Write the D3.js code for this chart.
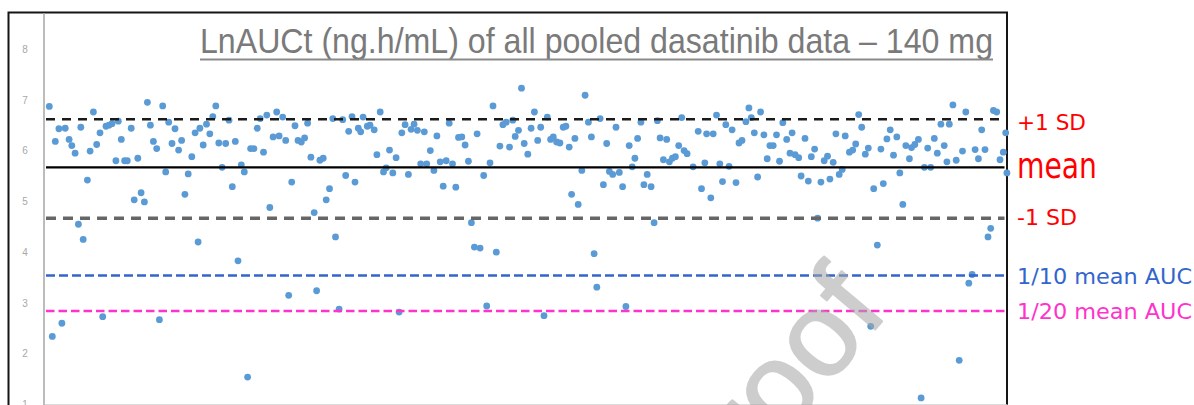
<!DOCTYPE html>
<html><head><meta charset="utf-8">
<script src="https://cdn.jsdelivr.net/npm/d3@7"></script>
<style>html,body{margin:0;padding:0;background:#fff;overflow:hidden}</style>
</head><body>
<svg id="chart" width="1194" height="405"></svg>
<script>
// ---- data ----
const titleText = "LnAUCt (ng.h/mL) of all pooled dasatinib data \u2013 140 mg";
const watermarkText = "Journal Pre-proof";
const yTicks = [1, 2, 3, 4, 5, 6, 7, 8];
const refLabels = ["+1 SD", "mean", "-1 SD", "1/10 mean AUC", "1/20 mean AUC"];
const refValues = [6.62, 5.67, 4.67, 3.54, 2.84];
// [subject order, LnAUCt]
const lnAUCtPoints = [
[2.1,6.87],[3.1,2.34],[4.1,6.18],[5.3,6.43],[6.3,2.60],[7.4,6.44],[8.7,6.22],[9.6,6.10],[10.7,5.95],[11.8,4.55],
[12.6,6.46],[13.4,4.25],[14.8,5.42],[15.7,5.99],[16.8,6.76],[17.9,6.12],[19.0,6.35],[19.9,2.73],[21.0,6.48],[22.0,6.50],
[23.0,6.53],[24.3,5.80],[25.1,6.58],[26.1,6.22],[27.2,5.80],[28.1,5.80],[29.4,6.44],[30.4,5.03],[31.6,5.85],[32.7,5.17],
[33.8,4.99],[34.8,6.95],[35.8,6.50],[36.8,6.18],[37.9,6.04],[38.8,2.67],[39.9,6.88],[40.9,5.58],[41.9,6.56],[43.0,6.14],
[44.0,6.43],[45.2,6.01],[46.2,6.20],[47.3,5.14],[48.4,5.54],[49.6,5.88],[50.7,6.35],[51.7,4.20],[52.3,6.44],[53.4,6.11],
[54.5,6.52],[55.6,6.33],[56.6,6.67],[57.6,6.88],[58.6,6.15],[59.7,5.67],[60.9,6.14],[62.0,6.60],[63.1,5.29],[64.1,6.18],
[65.0,3.83],[66.1,5.72],[67.1,5.58],[68.2,1.54],[69.2,6.04],[70.3,6.04],[71.4,6.44],[72.4,6.63],[73.5,5.97],[74.6,6.70],
[75.6,4.88],[76.7,6.27],[77.9,6.76],[78.7,6.29],[79.9,6.66],[80.9,6.20],[81.9,3.15],[82.9,5.38],[84.0,6.49],[85.0,6.20],
[86.1,6.17],[87.2,6.25],[88.2,6.54],[89.3,5.87],[90.4,4.78],[91.2,3.24],[92.3,5.81],[93.4,5.85],[94.4,5.03],[95.5,5.25],
[96.6,6.63],[97.5,4.30],[98.7,2.88],[99.9,6.61],[100.9,5.51],[101.9,6.38],[103.0,6.67],[104.0,5.38],[105.1,6.44],[105.9,6.37],
[106.7,6.66],[108.1,6.48],[109.0,6.50],[110.4,6.41],[111.3,5.92],[112.4,6.76],[113.5,5.58],[114.4,5.66],[115.5,6.01],[116.6,5.56],
[117.7,5.86],[118.7,2.82],[119.6,6.35],[120.7,6.51],[121.8,5.53],[122.7,6.42],[123.7,6.52],[124.8,6.40],[125.9,5.74],[127.1,6.37],
[127.9,5.74],[129.1,6.00],[130.3,5.61],[131.3,6.29],[132.4,5.78],[133.4,5.30],[134.4,5.80],[135.4,6.54],[136.5,5.74],[137.6,5.28],
[138.5,6.26],[139.6,6.27],[140.7,6.11],[141.8,5.79],[142.8,4.58],[143.8,4.10],[144.7,6.33],[145.7,4.08],[146.9,5.51],[147.9,2.94],
[149.0,5.76],[150.0,6.88],[151.1,4.00],[152.3,6.09],[153.3,6.51],[154.4,6.56],[155.5,6.07],[156.6,6.60],[157.4,6.28],[158.5,6.40],
[159.5,7.23],[160.4,6.14],[161.6,5.93],[162.7,6.44],[163.8,6.76],[164.9,6.20],[165.9,6.46],[167.0,2.75],[168.1,6.66],[169.2,6.22],
[170.1,6.27],[171.2,6.17],[172.3,6.15],[173.4,6.46],[174.3,6.48],[175.4,6.07],[176.2,5.14],[177.3,6.24],[178.4,4.94],[179.6,5.61],
[180.7,7.09],[181.8,6.56],[182.8,6.27],[183.7,3.97],[184.6,3.31],[185.7,6.63],[186.8,5.33],[187.9,6.14],[188.8,5.59],[189.9,5.53],
[191.0,6.46],[192.1,5.57],[193.2,5.29],[194.3,2.93],[195.4,6.10],[196.4,5.68],[197.3,5.85],[198.2,6.24],[199.3,6.56],[200.3,5.33],
[201.4,5.53],[202.7,5.29],[203.7,4.58],[204.8,6.59],[205.7,6.25],[206.8,5.82],[207.9,6.22],[208.8,5.78],[209.8,5.85],[210.8,5.88],
[211.9,6.10],[212.9,6.65],[213.7,6.00],[214.7,5.94],[216.7,5.68],[218.4,6.38],[219.5,5.25],[220.6,5.76],[221.2,6.33],[222.6,5.07],
[223.4,6.33],[224.5,6.70],[225.6,5.74],[226.5,5.39],[227.6,6.51],[228.7,5.69],[229.7,6.41],[231.0,5.37],[232.0,6.15],[233.0,6.20],
[234.3,6.57],[235.3,6.84],[236.1,6.65],[237.1,6.35],[238.2,5.48],[239.2,6.76],[240.3,6.31],[241.4,5.84],[242.3,6.10],[243.4,6.10],
[244.5,6.31],[245.5,5.79],[246.6,6.55],[247.9,6.22],[249.0,5.95],[249.7,6.35],[250.7,5.92],[251.9,5.86],[252.7,5.50],[254.0,6.24],
[255.1,5.40],[256.1,5.88],[257.2,6.03],[258.2,4.67],[259.3,5.38],[260.4,5.80],[261.5,5.89],[262.3,5.44],[263.4,5.77],[264.3,6.33],
[265.4,5.53],[266.4,5.63],[267.4,6.29],[268.8,5.97],[269.9,6.01],[270.9,6.13],[271.9,6.71],[272.9,6.46],[274.1,5.93],[275.1,6.05],
[275.9,2.54],[276.9,5.25],[278.1,4.14],[279.3,6.03],[280.1,5.35],[281.3,6.23],[282.4,6.41],[283.5,5.91],[284.6,6.27],[285.6,5.56],
[286.6,4.94],[287.6,6.10],[288.8,5.84],[289.5,6.06],[290.6,6.12],[291.8,6.22],[292.7,1.13],[293.8,5.67],[294.9,6.05],[295.9,5.67],
[297.1,6.24],[298.1,5.95],[299.3,6.52],[300.4,6.10],[301.3,5.78],[302.1,6.52],[303.3,6.90],[304.4,5.81],[305.4,1.87],[306.5,5.99],
[307.6,6.76],[308.6,3.39],[309.7,3.56],[310.7,6.02],[311.8,5.84],[312.9,6.41],[314.0,6.02],[315.0,4.30],[315.9,4.47],[316.8,6.79],
[317.9,6.76],[319.0,5.82],[320.1,5.97],[320.9,6.35],[321.3,5.56]
];

// ---- styles / layout ----
const refStyles = [
  {stroke: "#1a1a1a", width: 2.5, dash: "9,7"},
  {stroke: "#000000", width: 2.2, dash: null},
  {stroke: "#666666", width: 3.5, dash: "10,7"},
  {stroke: "#3366cc", width: 2.5, dash: "9,4"},
  {stroke: "#ff33cc", width: 2.5, dash: "8.5,4"}
];
const labelStyles = [
  {fill: "#ff0000", size: 22, dy: 10.5, len: 69},
  {fill: "#ff0000", size: 36, dy: 10.5, len: 80},
  {fill: "#ff0000", size: 22, dy: 6.5, len: 60},
  {fill: "#3366cc", size: 21, dy: 8.7, len: 175},
  {fill: "#ff33cc", size: 21, dy: 8.0, len: 175}
];

const svg = d3.select("#chart");
const x = d3.scaleLinear().domain([0, 321.33]).range([43, 1007]);
const y = d3.scaleLinear().domain([1, 8.71]).range([404.5, 13]);

// outer frame
svg.append("rect").attr("x", 8.5).attr("y", 12.5).attr("width", 998.5).attr("height", 430)
  .attr("fill", "#fff").attr("stroke", "#151515").attr("stroke-width", 2);

// x axis line (no ticks)
const xAxis = d3.axisBottom(x).tickValues([]).tickSize(0);
svg.append("g").attr("transform", `translate(0,${y(1)})`).call(xAxis)
  .select(".domain").attr("stroke", "#d0d0d0").attr("stroke-width", 1.5);

// y axis
const yAxis = d3.axisLeft(y).tickValues(yTicks).tickSize(0).tickPadding(0).tickFormat(d3.format("d"));
const gy = svg.append("g").attr("transform", "translate(43.5,0)").call(yAxis);
gy.select(".domain").attr("stroke", "#bcbcbc").attr("stroke-width", 2);
gy.selectAll(".tick text").attr("x", -18.5).attr("text-anchor", "middle")
  .attr("fill", "#a8a8a8").style("font-family", "'Liberation Sans', Arial, sans-serif").style("font-size", "10px");

// points
svg.append("g").selectAll("circle").data(lnAUCtPoints).join("circle")
  .attr("cx", d => x(d[0])).attr("cy", d => y(d[1])).attr("r", 3.4)
  .attr("fill", "#5b9bd5");

// reference lines
svg.append("g").selectAll("line").data(refValues).join("line")
  .attr("x1", x(1)).attr("x2", x(320.5))
  .attr("y1", d => y(d)).attr("y2", d => y(d))
  .attr("stroke", (d, i) => refStyles[i].stroke)
  .attr("stroke-width", (d, i) => refStyles[i].width)
  .attr("stroke-dasharray", (d, i) => refStyles[i].dash);

// labels on the right
svg.append("g").selectAll("text").data(refLabels).join("text")
  .attr("x", 1017)
  .attr("y", (d, i) => y(refValues[i]) + labelStyles[i].dy)
  .attr("fill", (d, i) => labelStyles[i].fill)
  .style("font-family", "'DejaVu Sans', Verdana, sans-serif")
  .style("font-size", (d, i) => labelStyles[i].size + "px")
  .attr("textLength", (d, i) => labelStyles[i].len)
  .attr("lengthAdjust", "spacingAndGlyphs")
  .text(d => d);

// title
svg.append("text").attr("x", 200).attr("y", 53.3)
  .attr("fill", "#7a7a7a")
  .style("font-family", "'Liberation Sans', Arial, sans-serif").style("font-size", "35px")
  .attr("textLength", 793).attr("lengthAdjust", "spacingAndGlyphs")
  .text(titleText);
svg.append("line").attr("x1", 200).attr("x2", 993).attr("y1", 59.5).attr("y2", 59.5)
  .attr("stroke", "#8a8a8a").attr("stroke-width", 2);

// watermark
svg.append("text")
  .attr("transform", "translate(890,312) rotate(-50)")
  .attr("text-anchor", "end")
  .attr("opacity", 0.55)
  .attr("fill", "#a6a6a6")
  .attr("stroke", "#a6a6a6").attr("stroke-width", 2).attr("stroke-linejoin", "round")
  .style("font-family", "'Liberation Sans', Arial, sans-serif").style("font-size", "120px")
  .text(watermarkText);
</script>
</body></html>
